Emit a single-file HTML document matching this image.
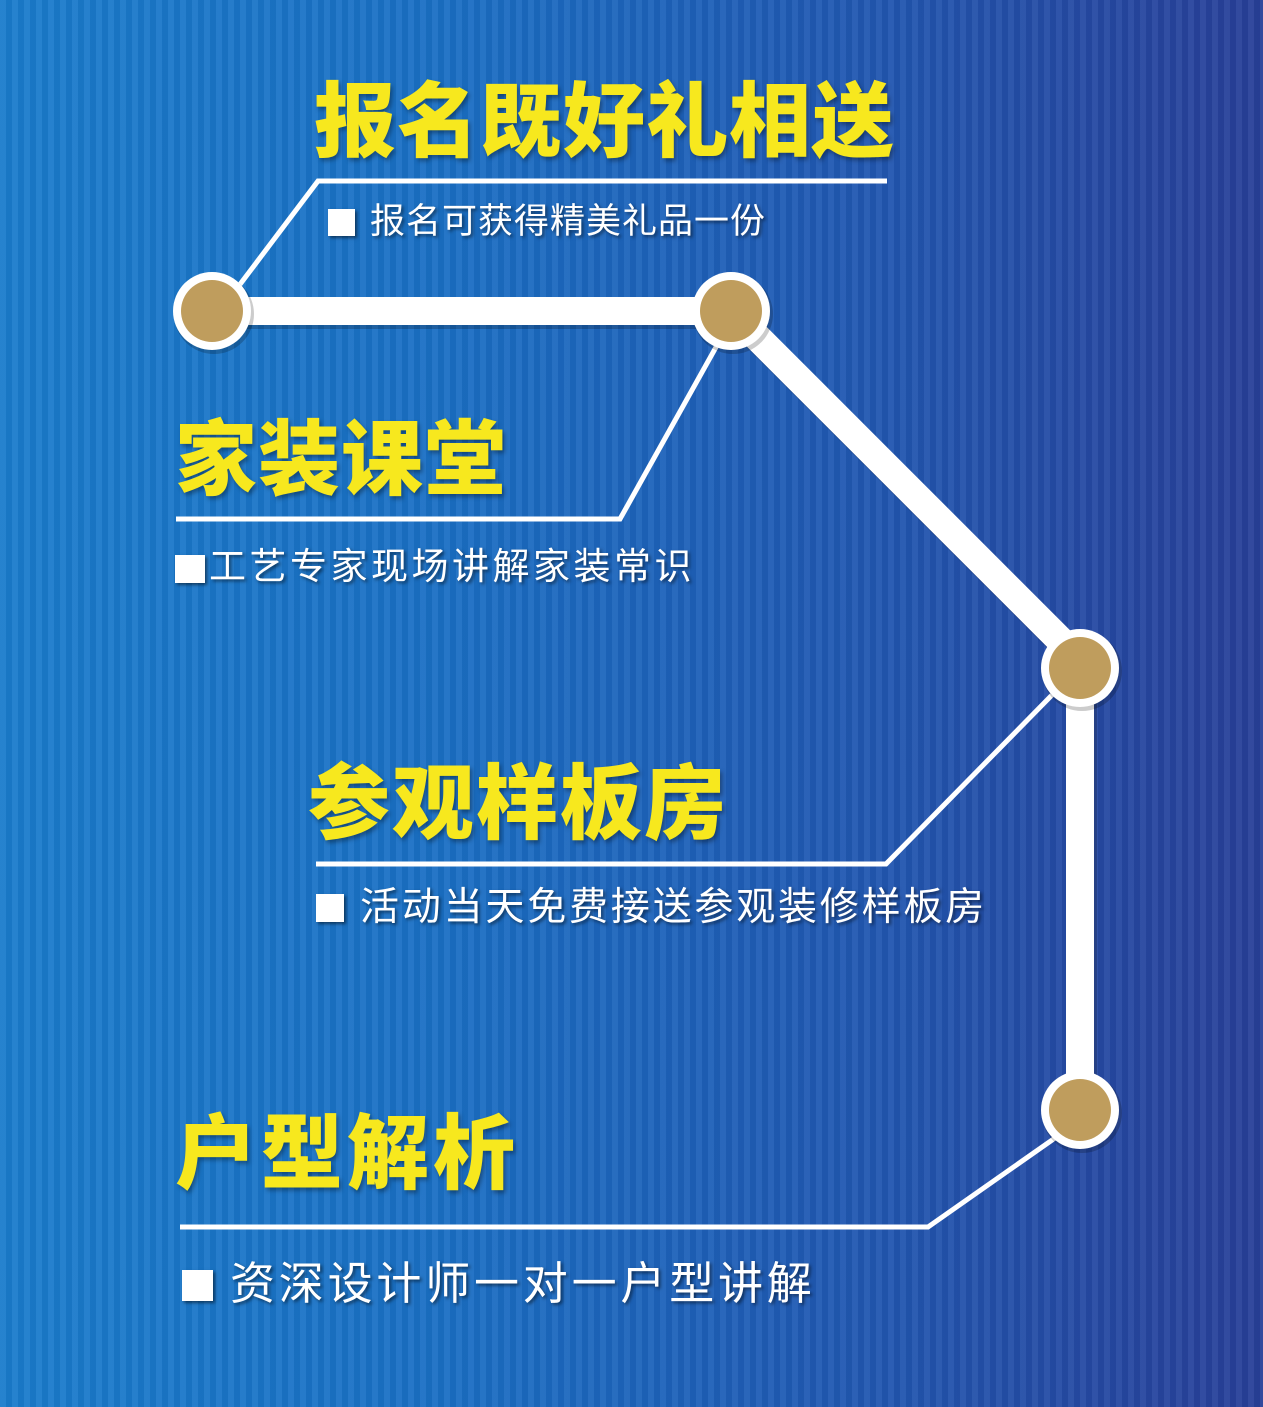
<!DOCTYPE html>
<html><head><meta charset="utf-8"><style>
html,body{margin:0;padding:0}
body{width:1263px;height:1407px;overflow:hidden;position:relative;
background:linear-gradient(90deg,#1a7ccc 0%,#1a6fc4 35%,#2156b0 70%,#283f98 100%);
font-family:"Liberation Sans","Noto Sans CJK SC",sans-serif}
.stripes{position:absolute;inset:0;background:repeating-linear-gradient(90deg,rgba(255,255,255,0.05) 0 6px,rgba(0,0,0,0.04) 6px 12px)}
.t{position:absolute;color:#f7e81e;font-weight:900;font-size:82px;line-height:1;white-space:nowrap;letter-spacing:2px;text-shadow:2px 3px 4px rgba(0,0,0,0.35)}
.s{position:absolute;color:#fff;white-space:nowrap;line-height:1;text-shadow:2px 2px 3px rgba(0,0,0,0.5)}
.q{position:absolute;background:#fff;box-shadow:2px 2px 3px rgba(0,0,0,0.5)}
</style></head><body>
<div class="stripes"></div>
<svg width="1263" height="1407" style="position:absolute;left:0;top:0">
<g fill="none" stroke="#fff" stroke-linejoin="miter">
<polyline points="212,311 731,311 1080,660 1080,1110" stroke-width="28" stroke="rgba(0,0,0,0.2)" transform="translate(3,4)"/>
<polyline points="212,311 731,311 1080,660 1080,1110" stroke-width="28"/>
<polyline points="238,287 318,181 887,181" stroke-width="5"/>
<polyline points="720,340 620,519 176,519" stroke-width="5"/>
<polyline points="1052,695 886,864 316,864" stroke-width="5"/>
<polyline points="1055,1138 928,1227 180,1227" stroke-width="5"/>
</g>
<g>
<circle cx="214" cy="314" r="40" fill="rgba(0,0,0,0.2)"/><circle cx="212" cy="311" r="39" fill="#fff"/><circle cx="212" cy="311" r="31" fill="#bf9d5d"/>
<circle cx="733" cy="314" r="40" fill="rgba(0,0,0,0.2)"/><circle cx="731" cy="311" r="39" fill="#fff"/><circle cx="731" cy="311" r="31" fill="#bf9d5d"/>
<circle cx="1082" cy="671" r="40" fill="rgba(0,0,0,0.2)"/><circle cx="1080" cy="668" r="39" fill="#fff"/><circle cx="1080" cy="668" r="31" fill="#bf9d5d"/>
<circle cx="1082" cy="1113" r="40" fill="rgba(0,0,0,0.2)"/><circle cx="1080" cy="1110" r="39" fill="#fff"/><circle cx="1080" cy="1110" r="31" fill="#bf9d5d"/>
</g>
</svg>
<div class="t" style="left:314px;top:82px;letter-spacing:1px">报名既好礼相送</div>
<div class="t" style="left:175px;top:420px;letter-spacing:1px">家装课堂</div>
<div class="t" style="left:308px;top:764px">参观样板房</div>
<div class="t" style="left:175px;top:1114px;letter-spacing:4px">户型解析</div>

<div class="q" style="left:328px;top:209px;width:27px;height:27px"></div>
<div class="s" style="left:370px;top:204px;font-size:35px;letter-spacing:1px">报名可获得精美礼品一份</div>

<div class="q" style="left:175px;top:555px;width:30px;height:28px"></div>
<div class="s" style="left:209px;top:548px;font-size:37px;letter-spacing:3.5px">工艺专家现场讲解家装常识</div>

<div class="q" style="left:316px;top:894px;width:28px;height:28px"></div>
<div class="s" style="left:360px;top:888px;font-size:39px;letter-spacing:2.8px">活动当天免费接送参观装修样板房</div>

<div class="q" style="left:182px;top:1270px;width:31px;height:31px"></div>
<div class="s" style="left:230px;top:1261px;font-size:45px;letter-spacing:3.8px">资深设计师一对一户型讲解</div>
</body></html>
